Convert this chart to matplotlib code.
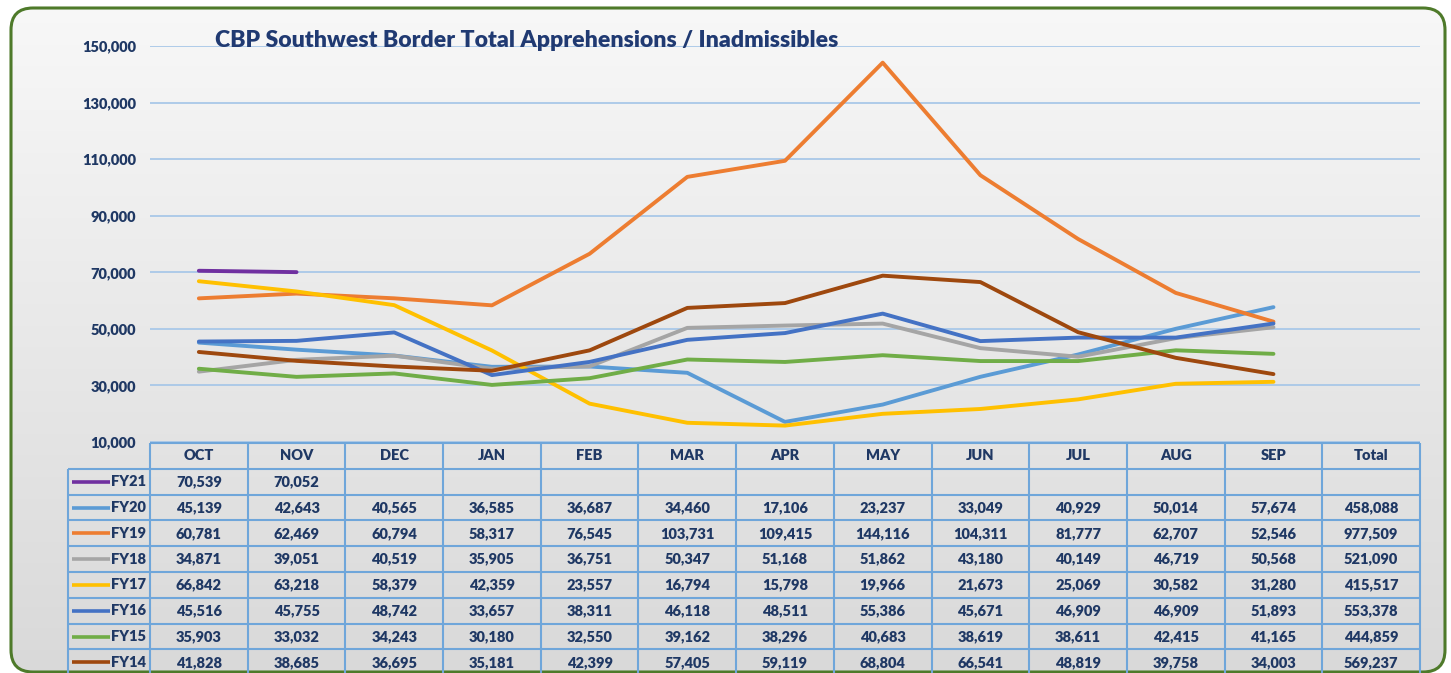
import matplotlib
matplotlib.use('Agg')
import matplotlib.pyplot as plt
import numpy as np
from matplotlib.patches import FancyBboxPatch

plt.rcParams['font.family'] = ['Lato', 'DejaVu Sans']

# data
months = ['OCT', 'NOV', 'DEC', 'JAN', 'FEB', 'MAR', 'APR', 'MAY', 'JUN', 'JUL', 'AUG', 'SEP']
years = ['FY21', 'FY20', 'FY19', 'FY18', 'FY17', 'FY16', 'FY15', 'FY14']
fy21 = [70539, 70052]
fy20 = [45139, 42643, 40565, 36585, 36687, 34460, 17106, 23237, 33049, 40929, 50014, 57674]
fy19 = [60781, 62469, 60794, 58317, 76545, 103731, 109415, 144116, 104311, 81777, 62707, 52546]
fy18 = [34871, 39051, 40519, 35905, 36751, 50347, 51168, 51862, 43180, 40149, 46719, 50568]
fy17 = [66842, 63218, 58379, 42359, 23557, 16794, 15798, 19966, 21673, 25069, 30582, 31280]
fy16 = [45516, 45755, 48742, 33657, 38311, 46118, 48511, 55386, 45671, 46909, 46909, 51893]
fy15 = [35903, 33032, 34243, 30180, 32550, 39162, 38296, 40683, 38619, 38611, 42415, 41165]
fy14 = [41828, 38685, 36695, 35181, 42399, 57405, 59119, 68804, 66541, 48819, 39758, 34003]
totals = [None, 458088, 977509, 521090, 415517, 553378, 444859, 569237]
series = [fy21, fy20, fy19, fy18, fy17, fy16, fy15, fy14]
colors = ['#7030a0', '#5b9bd5', '#ed7d31', '#a5a5a5', '#ffc000', '#4472c4', '#70ad47', '#9e480e']

navy = '#1f3864'
W, H = 1451, 673
fig = plt.figure(figsize=(W / 100, H / 100), dpi=100)

# background with rounded green border
bg = fig.add_axes([0, 0, 1, 1])
bg.set_xlim(0, W)
bg.set_ylim(H, 0)
bg.axis('off')
box = FancyBboxPatch((11, 8), W - 11 - 6, H - 8 - 1, boxstyle='round,pad=0,rounding_size=22',
                     facecolor='none', edgecolor='#4e7a2a', linewidth=2.2, zorder=3)
grad = np.linspace(0, 1, 256).reshape(-1, 1)
img = bg.imshow(grad, extent=[0, W, H, 0], cmap=matplotlib.colors.LinearSegmentedColormap.from_list(
    'g', ['#f8f8f8', '#d9d9d9']), aspect='auto', zorder=1)
bg.add_patch(box)
img.set_clip_path(box)

# line chart
left_px, right_px = 150, 1420
ax = fig.add_axes([left_px / W, 1 - 442 / H, (right_px - left_px) / W, 396 / H])
ax.patch.set_alpha(0)
x = np.arange(len(months))
for i, (s, c) in enumerate(zip(series, colors)):
    ax.plot(x[:len(s)], s, color=c, linewidth=2.8, zorder=3 + i, solid_capstyle='round')
ax.set_xlim(-0.5, 12.5)
ax.set_ylim(10000, 150000)
ax.set_yticks(np.arange(10000, 150001, 20000))
ax.set_yticklabels([f'{v:,}' for v in range(10000, 150001, 20000)],
                   color=navy, fontweight='heavy', fontsize=10.5)
ax.tick_params(axis='y', length=0, pad=10)
ax.set_xticks([])
for sp in ax.spines.values():
    sp.set_visible(False)
ax.yaxis.grid(True, color='#a9c8e8', linewidth=1.3)
ax.set_axisbelow(True)

fig.text(215 / W, 1 - 47 / H, 'CBP Southwest Border Total Apprehensions / Inadmissibles',
         fontsize=16.6, fontweight='heavy', color='#203a72', ha='left', va='baseline')

# data table
row_h = 25.8
top_px = 443
tab = fig.add_axes([left_px / W, 0, (right_px - left_px) / W, (H - top_px) / H])
tab.set_xlim(-0.5, 12.5)
tab.set_ylim((H - top_px) / row_h, 0)
tab.axis('off')
col_w = (right_px - left_px) / 13
lab_left = -0.5 - (150 - 68) / col_w
nrows = len(years) + 1
grid_c = '#6fa6da'
tab.hlines(0, -0.5, 12.5, color=grid_c, lw=1.5, clip_on=False)
tab.hlines(np.arange(1, nrows), lab_left, 12.5, color=grid_c, lw=1.5, clip_on=False)
tab.vlines(np.arange(-0.5, 13.0, 1.0), 0, nrows, color=grid_c, lw=1.5, clip_on=False)
tab.vlines(lab_left, 1, nrows, color=grid_c, lw=1.5, clip_on=False)

fs = 10.5
for j, m in enumerate(months + ['Total']):
    tab.text(j, 0.5, m, ha='center', va='center', fontsize=fs, fontweight='heavy', color=navy)

for r, (name, s, c, tot) in enumerate(zip(years, series, colors, totals), start=1):
    ly = r + 0.5
    tab.plot([-0.5 - (150 - 72) / col_w, -0.5 - (150 - 110) / col_w], [ly, ly],
             color=c, lw=2.6, clip_on=False, solid_capstyle='butt')
    tab.text(-0.5 - (150 - 111) / col_w, ly, name, ha='left', va='center', fontsize=fs,
             fontweight='heavy', color=navy, clip_on=False)
    for j, v in enumerate(s):
        tab.text(j, ly, f'{v:,}', ha='center', va='center', fontsize=fs,
                 fontweight='heavy', color=navy)
    if tot is not None:
        tab.text(12, ly, f'{tot:,}', ha='center', va='center', fontsize=fs,
                 fontweight='heavy', color=navy)

fig.savefig('out.png', dpi=100)
